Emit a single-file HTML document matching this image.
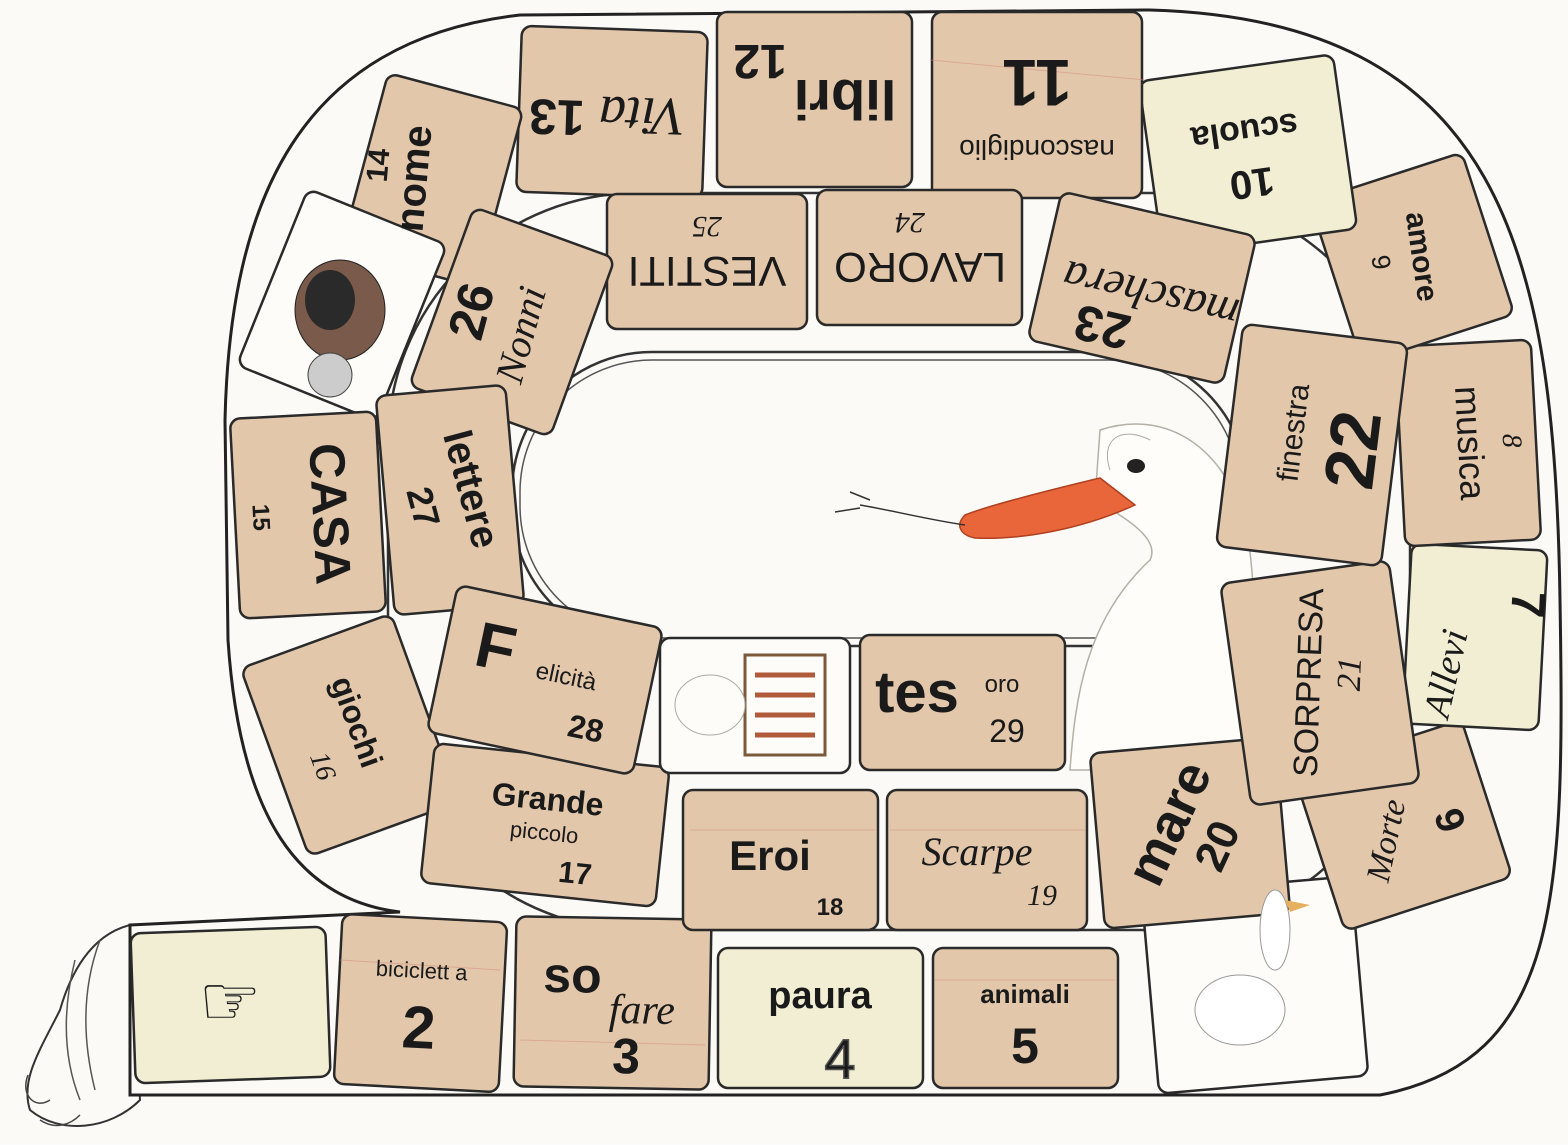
<!DOCTYPE html>
<html><head><meta charset="utf-8">
<style>
html,body{margin:0;padding:0;background:#fbfaf6;}
svg{display:block;}
text{font-family:"Liberation Sans",sans-serif;fill:#1a1a1a;}
.b{font-weight:bold;}
.s{font-family:"Liberation Serif",serif;font-style:italic;}
</style></head><body>
<svg width="1568" height="1145" viewBox="0 0 1568 1145" xmlns="http://www.w3.org/2000/svg">
<rect width="1568" height="1145" fill="#fbfaf6"/>
<!-- tail -->
<path d="M130,925 C90,935 70,975 60,1010 C40,1050 20,1080 30,1110 C60,1135 110,1130 140,1100 L130,925 Z" fill="#fbfaf6" stroke="#333" stroke-width="2"/>
<path d="M100,940 C85,980 80,1030 95,1090 M75,960 C65,1000 60,1050 80,1100" fill="none" stroke="#555" stroke-width="1.5"/>
<path d="M28,1075 C20,1095 35,1110 50,1100 M40,1120 C55,1130 70,1125 80,1115" fill="none" stroke="#444" stroke-width="1.5"/>
<!-- outer band -->
<path d="M130,925 L400,912 C300,900 240,820 228,640 L225,420 C230,200 300,40 520,15 L1150,10 C1500,20 1555,250 1560,600 C1565,900 1560,1060 1380,1095 L130,1095 Z" fill="#fbfaf6" stroke="#222" stroke-width="3"/>
<!-- ring separator -->
<rect x="388" y="193" width="1022" height="737" rx="250" fill="none" stroke="#333" stroke-width="2.5"/>
<!-- inner hole -->
<rect x="512" y="352" width="736" height="294" rx="140" fill="#fbfaf6" stroke="#333" stroke-width="2.5"/>
<rect x="520" y="360" width="720" height="278" rx="132" fill="none" stroke="#555" stroke-width="1.5"/>

<!-- goose in center -->
<path d="M1100,430 C1160,410 1220,440 1245,520 C1260,600 1255,680 1240,770 L1070,770 C1075,700 1085,620 1150,560 C1160,540 1130,520 1095,500 Z" fill="#fefdf9" stroke="#b5b0a5" stroke-width="1.5"/>
<path d="M1110,470 C1100,440 1120,425 1150,440" fill="none" stroke="#aaa" stroke-width="1"/>
<ellipse cx="1136" cy="466" rx="9" ry="7" fill="#222"/>
<path d="M1100,478 C1050,490 990,505 965,515 C955,525 960,535 975,538 C1020,540 1080,530 1135,505 Z" fill="#e8663a" stroke="#b04020" stroke-width="1.5"/>
<path d="M965,525 C930,520 890,510 860,505 M870,500 L850,492 M860,508 L835,512" fill="none" stroke="#333" stroke-width="1.5"/>

<!-- TILES -->
<g stroke="#2a2a2a" stroke-width="2.5">
<g transform="translate(230,1005) rotate(-2)"><rect x="-97" y="-75" width="195" height="150" rx="10" fill="#f2eed4"/></g>
<g transform="translate(420,1003) rotate(3)"><rect x="-82" y="-85" width="165" height="170" rx="10" fill="#e2c7ab"/></g>
<g transform="translate(612,1003) rotate(1)"><rect x="-97" y="-85" width="195" height="170" rx="10" fill="#e2c7ab"/></g>
<g transform="translate(820,1018)"><rect x="-102" y="-70" width="205" height="140" rx="10" fill="#f2eed4"/></g>
<g transform="translate(1025,1018)"><rect x="-92" y="-70" width="185" height="140" rx="10" fill="#e2c7ab"/></g>
<g transform="translate(1255,985) rotate(-5)"><rect x="-105" y="-100" width="210" height="200" rx="10" fill="#fdfcf8"/></g>
<g transform="translate(1403,825) rotate(-18)"><rect x="-88" y="-82" width="176" height="165" rx="10" fill="#e2c7ab"/></g>
<g transform="translate(1475,637) rotate(3)"><rect x="-68" y="-90" width="136" height="180" rx="10" fill="#f2eed4"/></g>
<g transform="translate(1468,443) rotate(-3)"><rect x="-68" y="-100" width="136" height="200" rx="10" fill="#e2c7ab"/></g>
<g transform="translate(1412,258) rotate(-18)"><rect x="-80" y="-85" width="160" height="170" rx="10" fill="#e2c7ab"/></g>
<g transform="translate(1248,155) rotate(172)"><rect x="-98" y="-88" width="196" height="176" rx="10" fill="#f2eed4"/></g>
<g transform="translate(1037,105) rotate(180)"><rect x="-105" y="-93" width="210" height="186" rx="10" fill="#e2c7ab"/></g>
<g transform="translate(815,100) rotate(180)"><rect x="-97" y="-87" width="195" height="175" rx="10" fill="#e2c7ab"/></g>
<g transform="translate(612,112) rotate(182)"><rect x="-93" y="-83" width="186" height="166" rx="10" fill="#e2c7ab"/></g>
<g transform="translate(432,180) rotate(15)"><rect x="-70" y="-92" width="140" height="184" rx="10" fill="#e2c7ab"/></g>
<g transform="translate(342,305) rotate(22)"><rect x="-75" y="-95" width="150" height="190" rx="10" fill="#fdfcf8"/></g>
<g transform="translate(308,515) rotate(-3)"><rect x="-73" y="-100" width="146" height="200" rx="10" fill="#e2c7ab"/></g>
<g transform="translate(350,735) rotate(-20)"><rect x="-80" y="-100" width="160" height="200" rx="10" fill="#e2c7ab"/></g>
<g transform="translate(545,825) rotate(6)"><rect x="-118" y="-70" width="236" height="140" rx="10" fill="#e2c7ab"/></g>
<g transform="translate(780,860)"><rect x="-97" y="-70" width="195" height="140" rx="10" fill="#e2c7ab"/></g>
<g transform="translate(987,860)"><rect x="-100" y="-70" width="200" height="140" rx="10" fill="#e2c7ab"/></g>
<g transform="translate(1190,833) rotate(-5)"><rect x="-93" y="-88" width="186" height="176" rx="10" fill="#e2c7ab"/></g>
<g transform="translate(1320,683) rotate(-8)"><rect x="-85" y="-112" width="170" height="224" rx="10" fill="#e2c7ab"/></g>
<g transform="translate(1312,445) rotate(7)"><rect x="-83" y="-112" width="166" height="224" rx="10" fill="#e2c7ab"/></g>
<g transform="translate(1142,288) rotate(13)"><rect x="-100" y="-76" width="200" height="152" rx="10" fill="#e2c7ab"/></g>
<g transform="translate(920,258) rotate(180)"><rect x="-102" y="-67" width="205" height="135" rx="10" fill="#e2c7ab"/></g>
<g transform="translate(707,262) rotate(180)"><rect x="-100" y="-67" width="200" height="135" rx="10" fill="#e2c7ab"/></g>
<g transform="translate(512,322) rotate(20)"><rect x="-75" y="-95" width="150" height="190" rx="10" fill="#e2c7ab"/></g>
<g transform="translate(450,500) rotate(-5)"><rect x="-65" y="-110" width="130" height="220" rx="10" fill="#e2c7ab"/></g>
<g transform="translate(545,680) rotate(12)"><rect x="-105" y="-75" width="210" height="150" rx="10" fill="#e2c7ab"/></g>
<g transform="translate(755,705)"><rect x="-95" y="-67" width="190" height="135" rx="10" fill="#fdfcf8"/></g>
<g transform="translate(962,702)"><rect x="-102" y="-67" width="205" height="135" rx="10" fill="#e2c7ab"/></g>
</g>

<g stroke="#d68a80" stroke-width="1" opacity="0.5">
<line x1="340" y1="960" x2="500" y2="970"/><line x1="520" y1="1040" x2="705" y2="1045"/>
<line x1="935" y1="980" x2="1115" y2="980"/><line x1="690" y1="830" x2="875" y2="830"/>
<line x1="890" y1="830" x2="1085" y2="830"/><line x1="930" y1="60" x2="1145" y2="80"/>
</g>

<!-- TEXT -->
<text x="230" y="1025" font-size="70" text-anchor="middle">☞</text>
<g transform="translate(420,1003) rotate(3)"><text y="-25" font-size="22" text-anchor="middle">biciclett a</text><text y="45" font-size="60" class="b" text-anchor="middle">2</text></g>
<g transform="translate(612,1003) rotate(1)"><text x="-40" y="-10" font-size="50" class="b" text-anchor="middle">so</text><text x="30" y="20" font-size="42" class="s" text-anchor="middle">fare</text><text x="15" y="70" font-size="50" class="b" text-anchor="middle">3</text></g>
<g transform="translate(820,1018)"><text y="-10" font-size="38" class="b" text-anchor="middle">paura</text><text x="20" y="60" font-size="56" text-anchor="middle" fill="none" stroke="#555" stroke-width="1.5">4</text></g>
<g transform="translate(1025,1018)"><text y="-15" font-size="26" class="b" text-anchor="middle">animali</text><text y="45" font-size="50" class="b" text-anchor="middle">5</text></g>
<ellipse cx="1240" cy="1010" rx="45" ry="35" fill="#fff" stroke="#999"/>
<ellipse cx="1275" cy="930" rx="15" ry="40" fill="#fff" stroke="#999"/>
<path d="M1285,900 L1310,905 L1290,912 Z" fill="#e7b060"/>
<g transform="translate(1403,825) rotate(-18)"><text x="-20" y="20" font-size="34" class="s" text-anchor="middle" transform="rotate(-60 -20 10)">Morte</text><text x="50" y="20" font-size="40" class="b" text-anchor="middle" transform="rotate(-90 50 10)">6</text></g>
<g transform="translate(1475,637) rotate(3)"><text x="-15" y="40" font-size="38" class="s" text-anchor="middle" transform="rotate(-80 -15 40)">Allevi</text><text x="35" y="-35" font-size="48" class="b" text-anchor="middle" transform="rotate(90 35 -35)">7</text></g>
<g transform="translate(1468,443) rotate(-3)"><text font-size="36" text-anchor="middle" transform="rotate(90) translate(0,10)">musica</text><text font-size="28" class="s" text-anchor="middle" transform="rotate(90) translate(0,-35)">8</text></g>
<g transform="translate(1412,258) rotate(-18)"><text font-size="30" class="b" text-anchor="middle" transform="rotate(100) translate(0,0)">amore</text><text font-size="26" text-anchor="middle" transform="rotate(100) translate(0,40)">9</text></g>
<g transform="translate(1248,155) rotate(172)"><text y="-15" font-size="40" class="b" text-anchor="middle">10</text><text y="35" font-size="34" class="b" text-anchor="middle">scuola</text></g>
<g transform="translate(1037,105) rotate(180)"><text y="-35" font-size="28" text-anchor="middle">nascondiglio</text><text y="45" font-size="66" class="b" text-anchor="middle">11</text></g>
<g transform="translate(815,100) rotate(180)"><text x="-30" y="20" font-size="56" class="b" text-anchor="middle">libri</text><text x="55" y="55" font-size="48" class="b" text-anchor="middle">12</text></g>
<g transform="translate(612,112) rotate(182)"><text x="-30" y="15" font-size="54" class="s" text-anchor="middle">Vita</text><text x="55" y="10" font-size="50" class="b" text-anchor="middle">13</text></g>
<g transform="translate(432,180) rotate(15)"><text font-size="40" class="b" text-anchor="middle" transform="rotate(-100) translate(0,-5)">nome</text><text font-size="30" class="b" text-anchor="middle" transform="rotate(-100) translate(10,-45)">14</text></g>
<ellipse cx="340" cy="310" rx="45" ry="50" fill="#7a5a4a" stroke="#222"/>
<ellipse cx="330" cy="300" rx="25" ry="30" fill="#2a2a2a"/>
<circle cx="330" cy="375" r="22" fill="#ccc" stroke="#444"/>
<g transform="translate(308,515) rotate(-3)"><text font-size="50" class="b" text-anchor="middle" transform="rotate(90) translate(0,-5)">CASA</text><text font-size="24" class="b" text-anchor="middle" transform="rotate(90) translate(0,55)">15</text></g>
<g transform="translate(350,735) rotate(-20)"><text font-size="32" class="b" text-anchor="middle" transform="rotate(90) translate(-10,0)">giochi</text><text font-size="28" class="s" text-anchor="middle" transform="rotate(90) translate(20,45)">16</text></g>
<g transform="translate(545,825) rotate(6)"><text y="-15" font-size="32" class="b" text-anchor="middle">Grande</text><text y="15" font-size="22" text-anchor="middle">piccolo</text><text x="35" y="55" font-size="30" class="b" text-anchor="middle">17</text></g>
<g transform="translate(780,860)"><text x="-10" y="10" font-size="42" class="b" text-anchor="middle">Eroi</text><text x="50" y="55" font-size="24" class="b" text-anchor="middle">18</text></g>
<g transform="translate(987,860)"><text x="-10" y="5" font-size="40" class="s" text-anchor="middle">Scarpe</text><text x="55" y="45" font-size="30" class="s" text-anchor="middle">19</text></g>
<g transform="translate(1190,833) rotate(-5)"><text font-size="54" class="b" text-anchor="middle" transform="rotate(-60) translate(0,-5)">mare</text><text font-size="44" class="b" text-anchor="middle" transform="rotate(-60) translate(0,45)">20</text></g>
<g transform="translate(1320,683) rotate(-8)"><text font-size="34" text-anchor="middle" transform="rotate(-80)">SORPRESA</text><text font-size="34" class="s" text-anchor="middle" transform="rotate(-80) translate(10,40)">21</text></g>
<g transform="translate(1312,445) rotate(7)"><text font-size="30" text-anchor="middle" transform="rotate(-90) translate(10,-10)">finestra</text><text font-size="70" class="b" text-anchor="middle" transform="rotate(-90) translate(0,65)">22</text></g>
<g transform="translate(1142,288) rotate(13)"><text x="-10" y="10" font-size="46" class="s" text-anchor="middle" transform="rotate(180)">maschera</text><text x="30" y="-30" font-size="50" class="b" text-anchor="middle" transform="rotate(180)">23</text></g>
<g transform="translate(920,258) rotate(180)"><text y="5" font-size="42" text-anchor="middle">LAVORO</text><text x="10" y="45" font-size="30" class="s" text-anchor="middle">24</text></g>
<g transform="translate(707,262) rotate(180)"><text y="5" font-size="42" text-anchor="middle">VESTITI</text><text y="45" font-size="30" class="s" text-anchor="middle">25</text></g>
<g transform="translate(512,322) rotate(20)"><text font-size="40" class="s" text-anchor="middle" transform="rotate(-95) translate(-10,25)">Nonni</text><text font-size="50" class="b" text-anchor="middle" transform="rotate(-95) translate(0,-25)">26</text></g>
<g transform="translate(450,500) rotate(-5)"><text font-size="40" class="b" text-anchor="middle" transform="rotate(80) translate(-5,-10)">lettere</text><text font-size="36" class="b" text-anchor="middle" transform="rotate(80) translate(0,40)">27</text></g>
<g transform="translate(545,680) rotate(12)"><text x="-55" y="0" font-size="64" class="b" text-anchor="middle">F</text><text x="20" y="0" font-size="24" text-anchor="middle">elicità</text><text x="50" y="50" font-size="32" class="b" text-anchor="middle">28</text></g>
<rect x="745" y="655" width="80" height="100" fill="none" stroke="#7a5a3a" stroke-width="3"/>
<g stroke="#b05a3a" stroke-width="5"><line x1="755" y1="675" x2="815" y2="675"/><line x1="755" y1="695" x2="815" y2="695"/><line x1="755" y1="715" x2="815" y2="715"/><line x1="755" y1="735" x2="815" y2="735"/></g>
<ellipse cx="710" cy="705" rx="35" ry="30" fill="#fdfcf8" stroke="#aaa"/>
<g transform="translate(962,702)"><text x="-45" y="10" font-size="58" class="b" text-anchor="middle">tes</text><text x="40" y="-10" font-size="24" text-anchor="middle">oro</text><text x="45" y="40" font-size="32" text-anchor="middle">29</text></g>
</svg>
</body></html>
